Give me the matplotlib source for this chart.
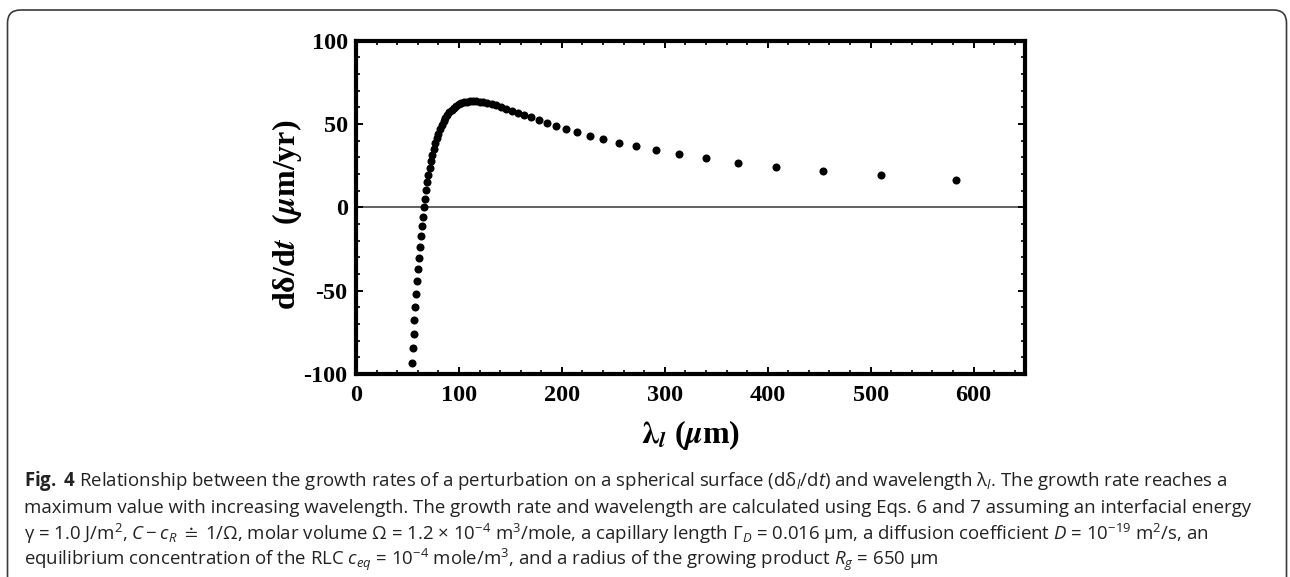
import matplotlib
matplotlib.use("Agg")
import matplotlib.pyplot as plt
from matplotlib.patches import FancyBboxPatch
from matplotlib.transforms import IdentityTransform
from matplotlib.ticker import MultipleLocator

# Wavelength of the perturbation (um) and its growth rate (um/yr)
wavelength = [583.4, 510.5, 453.8, 408.4, 371.3, 340.3, 314.2, 291.7, 272.3, 255.3,
              240.2, 226.9, 215.0, 204.2, 194.5, 185.6, 177.6, 170.2, 163.4, 157.1,
              151.3, 145.9, 140.8, 136.1, 131.7, 127.6, 123.8, 120.1, 116.7, 113.4,
              110.4, 107.5, 104.7, 102.1, 99.6, 97.2, 95.0, 92.8, 90.8, 88.8,
              86.9, 85.1, 83.3, 81.7, 80.1, 78.5, 77.1, 75.6, 74.3, 72.9,
              71.7, 70.4, 69.2, 68.1, 67.0, 65.9, 64.8, 63.8, 62.8, 61.9,
              61.0, 60.1, 59.2, 58.3, 57.5, 56.7, 55.9, 55.2, 54.5]
growth = [16.5, 19.2, 21.8, 24.4, 26.9, 29.4, 31.9, 34.2, 36.6, 38.8,
          41.0, 43.1, 45.2, 47.1, 49.0, 50.8, 52.4, 54.0, 55.5, 56.9,
          58.1, 59.3, 60.3, 61.2, 62.0, 62.7, 63.2, 63.5, 63.8, 63.8,
          63.8, 63.5, 63.1, 62.6, 61.8, 60.9, 59.9, 58.6, 57.1, 55.5,
          53.7, 51.6, 49.4, 47.0, 44.3, 41.4, 38.4, 35.0, 31.5, 27.7,
          23.7, 19.5, 15.0, 10.2, 5.3, 0.0, -5.5, -11.3, -17.3, -23.7,
          -30.3, -37.1, -44.3, -51.8, -59.5, -67.6, -75.9, -84.6, -93.5]

x_ticks = [0, 100, 200, 300, 400, 500, 600]
x_ticklabels = ["0", "100", "200", "300", "400", "500", "600"]
y_ticks = [-100, -50, 0, 50, 100]
y_ticklabels = ["-100", "-50", "0", "50", "100"]

caption_lines = [
    r"$\mathbf{Fig.}$ $\mathbf{4}$ Relationship between the growth rates of a perturbation on a spherical surface "
    r"(dδ$_{l}$/d$t$) and wavelength λ$_{l}$. The growth rate reaches a",
    "maximum value with increasing wavelength. The growth rate and wavelength are calculated using "
    "Eqs. 6 and 7 assuming an interfacial energy",
    r"γ = 1.0 J/m$^{2}$, $C - c_{R}$ $\doteq$ 1/Ω, molar volume Ω = 1.2 × 10$^{-4}$ m$^{3}$/mole, "
    r"a capillary length $Γ_{D}$ = 0.016 μm, a diffusion coefficient $D$ = 10$^{-19}$ m$^{2}$/s, an",
    r"equilibrium concentration of the RLC $c_{eq}$ = 10$^{-4}$ mole/m$^{3}$, "
    r"and a radius of the growing product $R_{g}$ = 650 μm",
]

plt.rcParams["mathtext.fontset"] = "custom"
plt.rcParams["mathtext.rm"] = "Open Sans"
plt.rcParams["mathtext.it"] = "Open Sans:italic"
plt.rcParams["mathtext.bf"] = "Open Sans:bold"
plt.rcParams["mathtext.fallback"] = "stixsans"

W, H = 1290, 577
fig = plt.figure(figsize=(W / 100, H / 100), dpi=100)
fig.patch.set_facecolor("white")

# rounded frame around the figure panel (open at the bottom)
frame = FancyBboxPatch((7.5, -30), 1279, 567 + 30, boxstyle="round,pad=0,rounding_size=13",
                       transform=IdentityTransform(), facecolor="none",
                       edgecolor="#3a3a3a", linewidth=1.2)
fig.add_artist(frame)

ax = fig.add_axes([356 / W, 1 - 374 / H, (1025 - 356) / W, (374 - 40.7) / H])
ax.axhline(0, color="#555555", lw=1.3, zorder=1)
ax.plot(wavelength, growth, "o", color="black", ms=5.8, mec="none", zorder=3, clip_on=True)

ax.set_xlim(0, 650)
ax.set_ylim(-100, 100)
ax.set_xticks(x_ticks)
ax.set_xticklabels(x_ticklabels)
ax.set_yticks(y_ticks)
ax.set_yticklabels(y_ticklabels)
ax.xaxis.set_minor_locator(MultipleLocator(20))
ax.yaxis.set_minor_locator(MultipleLocator(10))
ax.tick_params(which="both", direction="in", top=True, right=True, color="black")
ax.tick_params(which="major", length=5, width=1.4)
ax.tick_params(which="minor", length=3, width=1.2)
ax.tick_params(axis="x", which="major", pad=8)
ax.tick_params(axis="y", which="major", pad=6)
for lab in ax.get_xticklabels() + ax.get_yticklabels():
    lab.set_fontfamily("Liberation Serif")
    lab.set_fontweight("bold")
    lab.set_fontsize(17.5)
for sp in ax.spines.values():
    sp.set_linewidth(3.0)
    sp.set_color("black")

label_kw = dict(family="Liberation Serif", weight="bold", fontsize=23, math_fontfamily="stix",
                color="black")
fig.text(287 / W, 1 - 215 / H, r"dδ/d$\boldsymbol{t}$  ($\boldsymbol{\mu}$m/yr)",
         rotation=90, ha="center", va="center", **label_kw)
fig.text(690 / W, 1 - 435 / H, r"$\boldsymbol{\lambda}_{\boldsymbol{l}}$ ($\boldsymbol{\mu}$m)",
         ha="center", va="center", **label_kw)

line_y = [481, 508, 534, 560]
for txt, yy in zip(caption_lines, line_y):
    fig.text(24 / W, 1 - yy / H, txt, ha="left", va="center", family="Open Sans",
             fontsize=13.4, color="#222222")

fig.savefig("out.png", dpi=100)
